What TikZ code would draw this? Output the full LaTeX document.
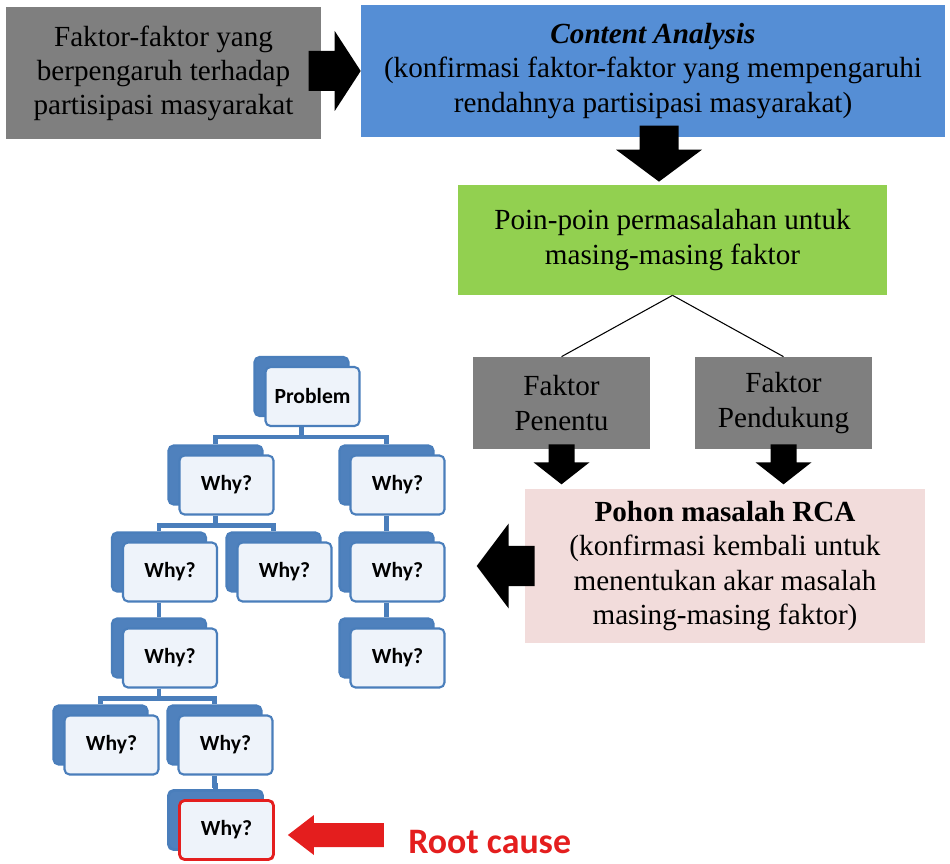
\documentclass[tikz,border=0pt]{standalone}
\usepackage{fontspec}
\setmainfont{Liberation Serif}
\newfontfamily\treefont{Carlito}
\usepackage{tikz}
\usetikzlibrary{
  positioning,
  calc,
  shadows
}
\definecolor{boxgray}{HTML}{7F7F7F}
\definecolor{boxblue}{HTML}{558ED5}
\definecolor{boxgreen}{HTML}{92D050}
\definecolor{boxpink}{HTML}{F2DCDB}
\definecolor{whyback}{HTML}{4F81BD}
\definecolor{whyfront}{HTML}{EEF3FA}
\definecolor{whyedge}{HTML}{4A7EBB}
\definecolor{rootred}{HTML}{E41E1E}
\tikzset{
  block/.style={inner sep=0pt, align=center, font=\fontsize{16.6}{19.4}\selectfont},
  why/.style={draw=whyedge, line width=1.2pt, fill=whyfront, rounded corners=1mm,
    minimum width=1.88cm, minimum height=1.18cm, inner sep=0pt,
    font=\treefont\bfseries\fontsize{12.3}{14}\selectfont,
    copy shadow={shadow xshift=-2.2mm, shadow yshift=2mm, fill=whyback, draw=whyedge}},
  tline/.style={draw=whyedge, line width=2.6pt},
  pics/blockarrow/.style args={#1/#2/#3/#4}{code={
    \fill (0,0) -- (-#1,-#3) -- (-#1,-#4) -- (-#1-#2,-#4) -- (-#1-#2,#4) -- (-#1,#4) -- (-#1,#3) -- cycle;}}
}

\begin{document}
\begin{tikzpicture}[x=0.02cm, y=-0.02cm]
    \useasboundingbox (0,0) rectangle (950,864);
    % flow on the right
    \node[block, fill=boxgray, minimum width=6.3cm, minimum height=2.64cm] (faktor) at (163.5,73)
      {Faktor-faktor yang\\berpengaruh terhadap\\partisipasi masyarakat};
    \node[block, fill=boxblue, minimum width=11.68cm, minimum height=2.64cm] (content) at (653,71)
      {\textbf{\textit{Content Analysis}}\\(konfirmasi faktor-faktor yang mempengaruhi\\rendahnya partisipasi masyarakat)};
    \node[block, fill=boxgreen, minimum width=8.58cm, minimum height=2.2cm] (poin) at (672.5,240)
      {Poin-poin permasalahan untuk\\masing-masing faktor};
    \node[block, fill=boxgray, minimum width=3.54cm, minimum height=1.84cm] (penentu) at (561.5,403)
      {Faktor\\Penentu};
    \node[block, fill=boxgray, minimum width=3.54cm, minimum height=1.84cm] (pendukung) at (783.5,403)
      {Faktor\\Pendukung};
    \node[block, fill=boxpink, minimum width=8cm, minimum height=3.08cm] (pohon) at (725,566)
      {\textbf{Pohon masalah RCA}\\(konfirmasi kembali untuk\\menentukan akar masalah\\masing-masing faktor)};
    \draw[line width=0.6pt] (poin.south) -- (penentu.north);
    \draw[line width=0.6pt] (poin.south) -- (pendukung.north);
    \pic at (content.west) {blockarrow=26/26/40/20};
    \pic[rotate=-90] at ($(poin.north)+(-13.5,-3)$) {blockarrow=32/24/43/19.5};
    \pic[rotate=-90] at ($(penentu.south)+(0,35)$) {blockarrow=22/18/28/13};
    \pic[rotate=-90] at ($(pendukung.south)+(0,35)$) {blockarrow=22/18/28/13};
    \pic[rotate=180] at ($(pohon.west)+(-48,0)$) {blockarrow=32/26/42.5/20};
    % why tree
    \node[why] (problem) at (312.5,396.5) {Problem};
    \node[why] (why1) at (226.5,485) {Why?};
    \node[why] (why2) at (397.5,485) {Why?};
    \node[why] (why3) at (170,572) {Why?};
    \node[why] (why4) at (284.5,572) {Why?};
    \node[why] (why5) at (397.5,572) {Why?};
    \node[why] (why6) at (170,658) {Why?};
    \node[why] (why7) at (397.5,658) {Why?};
    \node[why] (why8) at (111.5,745) {Why?};
    \node[why] (why9) at (225.5,745) {Why?};
    \node[why, draw=rootred, line width=1.6pt] (root) at (226.5,830) {Why?};
    \foreach \from/\to in {problem/why1, problem/why2, why1/why3, why1/why4, why2/why5,
                       why3/why6, why5/why7, why6/why8, why6/why9, why9/root}
      \draw[tline] ([xshift=-2.2mm]\from.south) -- ++(0,-2mm) -| ([xshift=-2.2mm,yshift=2mm]\to.north);
    \pic[rotate=180, color=rootred] at ($(root.east)+(13,5)$) {blockarrow=26/70/20/12};
    \node[anchor=base west, text=rootred, inner sep=0pt,
      font=\treefont\bfseries\fontsize{20.4}{24}\selectfont] (cause) at (408,853) {Root cause};
  \end{tikzpicture}
\end{document}
